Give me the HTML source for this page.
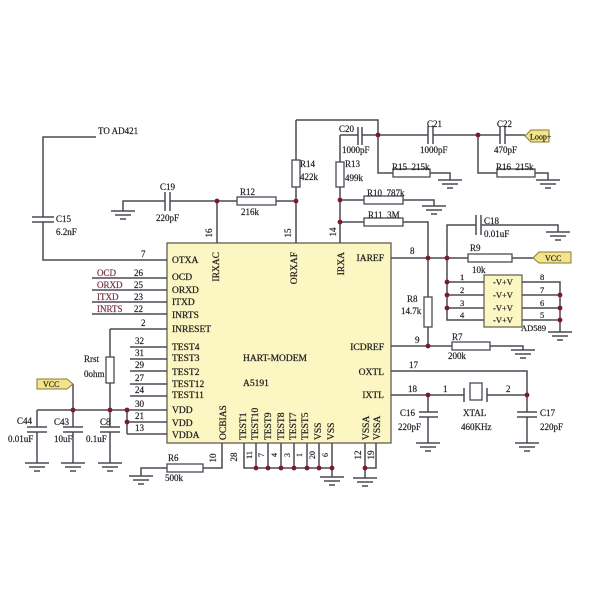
<!DOCTYPE html>
<html><head><meta charset="utf-8"><style>
html,body{margin:0;padding:0;background:#fff;}
svg{display:block;}
.w{fill:none;stroke:#4c4854;stroke-width:1.5;}
.r{fill:#fff;stroke:#4c4854;stroke-width:1.3;}
.t{font-family:"Liberation Serif",serif;font-size:9px;fill:#222;stroke:#222;stroke-width:0.2;}
.c{font-family:"Liberation Serif",serif;font-size:9.5px;fill:#222;stroke:#222;stroke-width:0.25;}
.m{font-family:"Liberation Serif",serif;font-size:9px;fill:#7a3040;stroke:#7a3040;stroke-width:0.2;}
.d{fill:#7a1a2a;}
</style></head><body>
<svg width="600" height="600" viewBox="0 0 600 600" xmlns="http://www.w3.org/2000/svg">
<defs>
<g id="g" class="w"><line x1="-12" y1="0" x2="12" y2="0"/><line x1="-8" y1="4" x2="8" y2="4"/><line x1="-3" y1="8" x2="3" y2="8"/></g>
</defs>

<!-- chip -->
<rect x="167" y="243" width="224" height="200" fill="#fbf6c2" stroke="#6e6858" stroke-width="1.4"/>
<!-- AD589 -->
<rect x="484" y="275" width="38" height="52" fill="#fbf6c2" stroke="#6e6858" stroke-width="1.3"/>

<!-- wires -->
<path class="w" d="
M96 137 H43 V217 M43 222 V260 H167
M123 211 V201 H165 M170 201 H237 M276 201 H296
M217 201 V243
M296 120 V160 M296 187 V243
M296 120 H378 V135
M340 135 H358 M362 135 H378
M378 135 H428 M433 135 H500 M505 135 H525
M378 135 V173 H393 M430 173 H450 V180
M478 135 V173 H497 M535 173 H548 V180
M340 135 V162 M340 187 V243
M340 200 H364 M403 200 H434 V206
M340 222 H364 M403 222 H428 V258
M447 258 V225 H476 M481 225 H558 V232
M391 258 H468 M512 258 H533
M447 258 V320 H484 M447 282 H484 M447 295 H484 M447 308 H484
M522 282 H560 V332 M522 295 H560 M522 308 H560 M522 320 H560
M428 258 V297 M428 327 V346
M391 346 H452 M490 346 H523 V350
M391 371 H527 V412 M527 417 V443
M391 395 H464 M487 395 H527
M428 395 V412 M428 417 V443
M365 443 V478 M376 443 V468 H365
M222 443 V468 H203 M167 468 H141 V476
M244 443 V468 H332 M256 443 V468 M268 443 V468 M281 443 V468 M294 443 V468 M307 443 V468 M319 443 V468 M332 443 V477
M92 278 H167 M92 290 H167 M92 302 H167 M92 314 H167
M110 329 H167 M110 329 V357 M110 383 V410
M130 347 H167 M130 359 H167 M130 371 H167 M130 384 H167 M130 396 H167
M37 410 H167 M127 410 V434 M127 422 H167 M127 434 H167
M73 384 V410
M37 410 V427 M37 432 V463 M73 410 V427 M73 432 V463 M110 410 V427 M110 432 V463
"/>
<!-- capacitor plates -->
<path class="w" stroke-width="1.7" d="
M32 217 H54 M32 222 H54
M165 192 V211 M170 192 V211
M358 127 V145 M362 127 V145
M428 126 V144 M433 126 V144
M500 126 V144 M505 126 V144
M476 215 V235 M481 215 V235
M419 412 H438 M419 417 H438
M517 412 H537 M517 417 H537
M27 427 H47 M27 432 H47
M63 427 H83 M63 432 H83
M100 427 H120 M100 432 H120
M464 388 V402 M487 388 V402
"/>

<!-- resistors -->
<rect class="r" x="237" y="197" width="39" height="8"/>
<rect class="r" x="292" y="160" width="8" height="27"/>
<rect class="r" x="336" y="162" width="8" height="25"/>
<rect class="r" x="393" y="169" width="37" height="8"/>
<rect class="r" x="497" y="169" width="38" height="8"/>
<rect class="r" x="364" y="196" width="39" height="8"/>
<rect class="r" x="364" y="218" width="39" height="8"/>
<rect class="r" x="468" y="254" width="44" height="8"/>
<rect class="r" x="424" y="297" width="8" height="30"/>
<rect class="r" x="452" y="342" width="38" height="8"/>
<rect class="r" x="167" y="464" width="36" height="8"/>
<rect class="r" x="106" y="357" width="8" height="26"/>
<rect class="r" x="470" y="383" width="12" height="17"/>

<!-- grounds -->
<use href="#g" x="123" y="211"/>
<use href="#g" x="450" y="180"/>
<use href="#g" x="548" y="180"/>
<use href="#g" x="434" y="206"/>
<use href="#g" x="558" y="232"/>
<use href="#g" x="560" y="332"/>
<use href="#g" x="523" y="350"/>
<use href="#g" x="428" y="443"/>
<use href="#g" x="527" y="443"/>
<use href="#g" x="365" y="478"/>
<use href="#g" x="332" y="477"/>
<use href="#g" x="141" y="476"/>
<use href="#g" x="37" y="463"/>
<use href="#g" x="73" y="463"/>
<use href="#g" x="110" y="463"/>

<!-- junction dots -->
<g class="d">
<circle cx="217" cy="201" r="2.4"/><circle cx="296" cy="201" r="2.4"/>
<circle cx="378" cy="135" r="2.4"/><circle cx="478" cy="135" r="2.4"/>
<circle cx="340" cy="200" r="2.4"/><circle cx="340" cy="222" r="2.4"/>
<circle cx="428" cy="258" r="2.4"/><circle cx="447" cy="258" r="2.4"/>
<circle cx="447" cy="282" r="2.4"/><circle cx="447" cy="295" r="2.4"/><circle cx="447" cy="308" r="2.4"/>
<circle cx="560" cy="295" r="2.4"/><circle cx="560" cy="308" r="2.4"/><circle cx="560" cy="320" r="2.4"/>
<circle cx="428" cy="346" r="2.4"/><circle cx="428" cy="395" r="2.4"/><circle cx="527" cy="395" r="2.4"/>
<circle cx="365" cy="468" r="2.4"/>
<circle cx="256" cy="468" r="2.4"/><circle cx="268" cy="468" r="2.4"/><circle cx="281" cy="468" r="2.4"/>
<circle cx="294" cy="468" r="2.4"/><circle cx="307" cy="468" r="2.4"/><circle cx="319" cy="468" r="2.4"/><circle cx="332" cy="468" r="2.4"/>
<circle cx="73" cy="410" r="2.4"/><circle cx="110" cy="410" r="2.4"/><circle cx="127" cy="410" r="2.4"/><circle cx="127" cy="422" r="2.4"/>
</g>

<!-- tags -->
<polygon points="525,136 531,130 549,130 549,142 531,142" fill="#f3e38a" stroke="#8a7a30" stroke-width="1"/>
<text class="t" x="530" y="139.5" style="font-size:8px">Loop+</text>
<polygon points="533,258 539,252 571,252 571,263 539,263" fill="#f3e38a" stroke="#8a7a30" stroke-width="1"/>
<text class="t" x="545" y="261" style="font-size:8px">VCC</text>
<polygon points="37,379 67,379 73,384 67,389 37,389" fill="#f3e38a" stroke="#8a7a30" stroke-width="1"/>
<text class="t" x="43" y="387" style="font-size:8px">VCC</text>

<!-- component labels -->
<text class="t" x="98" y="134">TO AD421</text>
<text class="t" x="56" y="222">C15</text><text class="t" x="56" y="235">6.2nF</text>
<text class="t" x="160" y="190">C19</text><text class="t" x="156" y="221">220pF</text>
<text class="t" x="240" y="195">R12</text><text class="t" x="241" y="215">216k</text>
<text class="t" x="300" y="167">R14</text><text class="t" x="300" y="180">422k</text>
<text class="t" x="339" y="132">C20</text><text class="t" x="342" y="153">1000pF</text>
<text class="t" x="345" y="167">R13</text><text class="t" x="345" y="181">499k</text>
<text class="t" x="427" y="127">C21</text><text class="t" x="420" y="153">1000pF</text>
<text class="t" x="497" y="127">C22</text><text class="t" x="494" y="153">470pF</text>
<text class="t" x="392" y="170">R15&#160;&#160;215k</text>
<text class="t" x="496" y="170">R16&#160;&#160;215k</text>
<text class="t" x="367" y="196">R10&#160;&#160;787k</text>
<text class="t" x="368" y="218">R11&#160;&#160;3M</text>
<text class="t" x="484" y="224">C18</text><text class="t" x="484" y="237">0.01uF</text>
<text class="t" x="470" y="251">R9</text><text class="t" x="472" y="273">10k</text>
<text class="t" x="407" y="302">R8</text><text class="t" x="401" y="314">14.7k</text>
<text class="t" x="452" y="340">R7</text><text class="t" x="448" y="359">200k</text>
<text class="t" x="521" y="331" style="font-size:8.5px">AD589</text>
<text class="t" x="400" y="416">C16</text><text class="t" x="398" y="430">220pF</text>
<text class="t" x="463" y="416">XTAL</text><text class="t" x="461" y="430">460KHz</text>
<text class="t" x="540" y="416">C17</text><text class="t" x="540" y="430">220pF</text>
<text class="t" x="168" y="461">R6</text><text class="t" x="165" y="481">500k</text>
<text class="t" x="84" y="362">Rrst</text><text class="t" x="84" y="377">0ohm</text>
<text class="t" x="17" y="424">C44</text><text class="t" x="8" y="442">0.01uF</text>
<text class="t" x="54" y="425">C43</text><text class="t" x="54" y="442">10uF</text>
<text class="t" x="100" y="425">C8</text><text class="t" x="86" y="442">0.1uF</text>

<!-- AD589 inner -->
<g class="t" text-anchor="middle" style="font-size:8.5px">
<text x="503" y="285">-V+V</text><text x="503" y="298">-V+V</text>
<text x="503" y="311">-V+V</text><text x="503" y="323">-V+V</text>
</g>
<g class="t" style="font-size:8.5px">
<text x="460" y="280">1</text><text x="460" y="293">2</text><text x="460" y="306">3</text><text x="460" y="318">4</text>
<text x="540" y="280">8</text><text x="540" y="293">7</text><text x="540" y="306">6</text><text x="540" y="318">5</text>
</g>

<!-- pin numbers -->
<g class="t">
<text x="141" y="257">7</text>
<text x="134" y="276">26</text><text x="134" y="288">25</text><text x="134" y="300">23</text><text x="134" y="312">22</text>
<text x="141" y="326">2</text>
<text x="135" y="344">32</text><text x="135" y="356">31</text><text x="135" y="368">29</text>
<text x="135" y="381">27</text><text x="135" y="393">24</text><text x="135" y="407">30</text>
<text x="135" y="419">21</text><text x="135" y="431">13</text>
<text x="410" y="254">8</text><text x="415" y="343">9</text><text x="409" y="368">17</text>
<text x="408" y="392">18</text><text x="443" y="392">1</text><text x="506" y="392">2</text>
</g>
<g class="t" text-anchor="middle">
<text transform="translate(212,233) rotate(-90)">16</text>
<text transform="translate(291,233) rotate(-90)">15</text>
<text transform="translate(336,232) rotate(-90)">14</text>
<text transform="translate(216,458) rotate(-90)">10</text>
<text transform="translate(237,457) rotate(-90)">28</text>
<text transform="translate(252,455) rotate(-90)" style="font-size:8px">11</text>
<text transform="translate(264,455) rotate(-90)" style="font-size:8px">7</text>
<text transform="translate(277,455) rotate(-90)" style="font-size:8px">4</text>
<text transform="translate(290,455) rotate(-90)" style="font-size:8px">3</text>
<text transform="translate(302,455) rotate(-90)" style="font-size:8px">1</text>
<text transform="translate(315,455) rotate(-90)" style="font-size:8px">20</text>
<text transform="translate(328,455) rotate(-90)" style="font-size:8px">6</text>
<text transform="translate(361,455) rotate(-90)">12</text>
<text transform="translate(374,455) rotate(-90)">19</text>
</g>

<!-- left signal names -->
<text class="m" x="97" y="276">OCD</text>
<text class="m" x="97" y="288">ORXD</text>
<text class="m" x="97" y="300">ITXD</text>
<text class="m" x="97" y="312">INRTS</text>

<!-- chip inner labels -->
<g class="c">
<text x="172" y="263">OTXA</text>
<text x="172" y="280">OCD</text>
<text x="172" y="293">ORXD</text>
<text x="172" y="305">ITXD</text>
<text x="172" y="318">INRTS</text>
<text x="172" y="332">INRESET</text>
<text x="172" y="350">TEST4</text>
<text x="172" y="361">TEST3</text>
<text x="172" y="375">TEST2</text>
<text x="172" y="387">TEST12</text>
<text x="172" y="398">TEST11</text>
<text x="172" y="413">VDD</text>
<text x="172" y="426">VDD</text>
<text x="172" y="438">VDDA</text>
<text x="243" y="361">HART-MODEM</text>
<text x="243" y="386">A5191</text>
</g>
<g class="c" text-anchor="end">
<text x="384" y="261">IAREF</text>
<text x="384" y="350">ICDREF</text>
<text x="384" y="375">OXTL</text>
<text x="384" y="398">IXTL</text>
<text transform="translate(219,252) rotate(-90)">IRXAC</text>
<text transform="translate(297,252) rotate(-90)">ORXAF</text>
<text transform="translate(344,252) rotate(-90)">IRXA</text>
</g>
<g class="c">
<text transform="translate(226,440) rotate(-90)">OCBIAS</text>
<text transform="translate(246,440) rotate(-90)">TEST1</text>
<text transform="translate(258,440) rotate(-90)">TEST10</text>
<text transform="translate(271,440) rotate(-90)">TEST9</text>
<text transform="translate(284,440) rotate(-90)">TEST8</text>
<text transform="translate(296,440) rotate(-90)">TEST7</text>
<text transform="translate(308,440) rotate(-90)">TEST5</text>
<text transform="translate(321,440) rotate(-90)">VSS</text>
<text transform="translate(334,440) rotate(-90)">VSS</text>
<text transform="translate(369,440) rotate(-90)">VSSA</text>
<text transform="translate(380,440) rotate(-90)">VSSA</text>
</g>
</svg>
</body></html>
